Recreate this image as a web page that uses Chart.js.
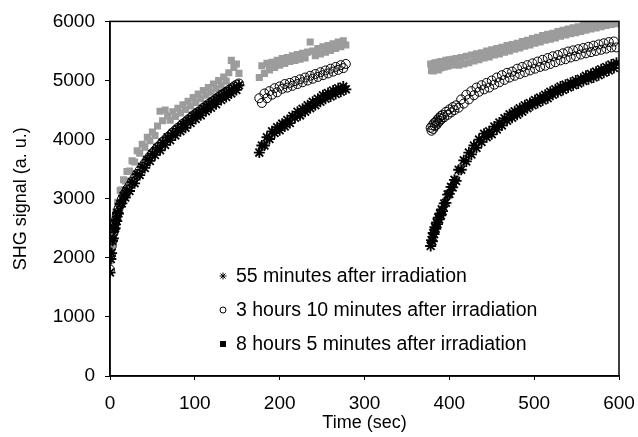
<!DOCTYPE html>
<html>
<head>
<meta charset="utf-8">
<script src="https://cdn.jsdelivr.net/npm/chart.js@4.4.1/dist/chart.umd.min.js"></script>
<style>
  html, body { margin: 0; padding: 0; background: #fff; }
  #wrap { width: 638px; height: 437px; }
</style>
</head>
<body>
<div id="wrap"><canvas id="shgChart" width="638" height="437"></canvas></div>
<script>
// Time points (sec) for the three measurement runs
const seg1Time = [0, 1, 2, 3, 4, 5, 6, 7, 8, 9, 10, 12, 14, 16, 18, 20, 23, 26, 29, 32, 35, 38, 41, 44, 47, 50, 53, 56, 59, 62, 65, 68, 71, 74, 77, 80, 83, 86, 89, 92, 95, 98, 101, 104, 107, 110, 113, 116, 119, 122, 125, 128, 131, 134, 137, 140, 143, 146, 149, 152];
const seg2Time = [176, 179, 182, 185, 188, 191, 194, 197, 200, 203, 206, 209, 212, 215, 218, 221, 224, 227, 230, 233, 236, 239, 242, 245, 248, 251, 254, 257, 260, 263, 266, 269, 272, 275, 278];
const seg3Time = [378, 379, 380, 381, 382, 383, 384, 385, 386, 387, 388, 389, 390, 391, 392, 394, 396, 398, 400, 402, 404, 406, 408, 411, 414, 417, 420, 423, 426, 429, 432, 435, 438, 441, 444, 447, 450, 453, 456, 459, 462, 465, 468, 471, 474, 477, 480, 483, 486, 489, 492, 495, 498, 501, 504, 507, 510, 513, 516, 519, 522, 525, 528, 531, 534, 537, 540, 543, 546, 549, 552, 555, 558, 561, 564, 567, 570, 573, 576, 579, 582, 585, 588, 591, 594, 597];

// 55 minutes after irradiation
const min55Seg1 = [1750, 1980, 2080, 2290, 2330, 2480, 2500, 2640, 2620, 2760, 2750, 2910, 2920, 3050, 3020, 3140, 3130, 3280, 3260, 3410, 3400, 3540, 3520, 3660, 3640, 3760, 3740, 3860, 3820, 3950, 3910, 4040, 3990, 4110, 4070, 4180, 4140, 4260, 4200, 4320, 4280, 4400, 4350, 4460, 4410, 4520, 4480, 4590, 4540, 4650, 4600, 4710, 4670, 4770, 4720, 4820, 4780, 4870, 4840, 4920];
const min55Seg2 = [3780, 3900, 3900, 4040, 4010, 4140, 4110, 4210, 4160, 4270, 4220, 4330, 4280, 4400, 4370, 4470, 4410, 4520, 4470, 4580, 4530, 4640, 4580, 4690, 4640, 4750, 4690, 4790, 4730, 4830, 4770, 4870, 4810, 4900, 4850];
const min55Seg3 = [2200, 2300, 2280, 2420, 2400, 2520, 2490, 2600, 2570, 2680, 2650, 2750, 2720, 2820, 2790, 2920, 2930, 3070, 3080, 3200, 3190, 3320, 3300, 3490, 3490, 3650, 3630, 3780, 3750, 3900, 3860, 4000, 3960, 4100, 4040, 4140, 4090, 4220, 4170, 4290, 4240, 4360, 4320, 4430, 4370, 4480, 4420, 4530, 4470, 4580, 4530, 4620, 4580, 4670, 4620, 4710, 4660, 4760, 4700, 4810, 4760, 4850, 4800, 4900, 4840, 4930, 4880, 4960, 4920, 5000, 4950, 5030, 4990, 5080, 5020, 5110, 5050, 5150, 5090, 5190, 5130, 5230, 5170, 5270, 5210, 5300];

// 3 hours 10 minutes after irradiation
const h3Seg1 = [1800, 2050, 2200, 2300, 2420, 2500, 2580, 2640, 2720, 2760, 2830, 2900, 2990, 3040, 3100, 3160, 3220, 3290, 3350, 3420, 3480, 3540, 3600, 3660, 3720, 3770, 3820, 3870, 3910, 3960, 4000, 4040, 4080, 4120, 4160, 4200, 4230, 4270, 4300, 4340, 4370, 4410, 4440, 4470, 4500, 4540, 4570, 4600, 4630, 4660, 4690, 4720, 4760, 4780, 4810, 4840, 4870, 4900, 4930, 4950];
const h3Seg2 = [4700, 4620, 4780, 4700, 4820, 4760, 4870, 4800, 4900, 4860, 4940, 4880, 4960, 4910, 4990, 4940, 5020, 4970, 5050, 5000, 5080, 5030, 5110, 5060, 5140, 5090, 5170, 5120, 5200, 5150, 5230, 5180, 5260, 5210, 5280];
const h3Seg3 = [4200, 4150, 4240, 4180, 4280, 4230, 4300, 4250, 4340, 4290, 4370, 4320, 4400, 4350, 4420, 4380, 4470, 4420, 4510, 4460, 4550, 4500, 4580, 4540, 4680, 4610, 4760, 4680, 4820, 4750, 4880, 4810, 4920, 4850, 4960, 4880, 5000, 4930, 5050, 4970, 5090, 5010, 5130, 5050, 5150, 5080, 5200, 5110, 5230, 5140, 5260, 5170, 5290, 5200, 5320, 5230, 5350, 5250, 5380, 5280, 5410, 5310, 5430, 5340, 5460, 5360, 5490, 5390, 5510, 5410, 5530, 5440, 5550, 5460, 5570, 5480, 5590, 5500, 5610, 5520, 5630, 5540, 5650, 5560, 5660, 5560];

// 8 hours 5 minutes after irradiation
const h8Seg1 = [1950, 2150, 2220, 2400, 2430, 2600, 2620, 2780, 2770, 2940, 2920, 3140, 3150, 3320, 3300, 3460, 3470, 3640, 3620, 3810, 3770, 3920, 3870, 4040, 3980, 4130, 4070, 4230, 4480, 4320, 4500, 4400, 4330, 4470, 4390, 4530, 4450, 4590, 4510, 4650, 4570, 4710, 4630, 4770, 4690, 4830, 4750, 4880, 4800, 4940, 4860, 5000, 4920, 5060, 4990, 5130, 5340, 5220, 5280, 5120];
const h8Seg2 = [5050, 5250, 5120, 5290, 5180, 5310, 5220, 5340, 5260, 5370, 5290, 5390, 5320, 5420, 5340, 5440, 5360, 5460, 5380, 5480, 5650, 5500, 5420, 5540, 5450, 5570, 5480, 5590, 5510, 5620, 5540, 5650, 5570, 5670, 5600];
const h8Seg3 = [5280, 5170, 5250, 5160, 5290, 5190, 5300, 5200, 5280, 5180, 5310, 5210, 5320, 5220, 5300, 5230, 5340, 5240, 5350, 5260, 5360, 5270, 5370, 5260, 5390, 5280, 5410, 5300, 5430, 5330, 5450, 5350, 5470, 5380, 5500, 5400, 5520, 5430, 5540, 5450, 5560, 5480, 5590, 5500, 5610, 5530, 5630, 5550, 5660, 5580, 5680, 5600, 5710, 5630, 5730, 5650, 5760, 5680, 5780, 5700, 5800, 5720, 5830, 5750, 5850, 5770, 5870, 5790, 5890, 5810, 5910, 5830, 5930, 5850, 5950, 5870, 5970, 5890, 5990, 5910, 6000, 5930, 6000, 5950, 6000, 5960];

const seriesLabels = [
  "55 minutes after irradiation",
  "3 hours 10 minutes after irradiation",
  "8 hours 5 minutes after irradiation",
];

const FONT = "'Liberation Sans', Arial, Helvetica, sans-serif";

// pair up time and signal arrays
function toPoints(times, values) {
  return times.map(function (t, i) {
    return { x: t, y: values[i] };
  });
}

function buildSeries(s1, s2, s3) {
  return toPoints(seg1Time, s1)
    .concat(toPoints(seg2Time, s2))
    .concat(toPoints(seg3Time, s3));
}

// box round the plot + legend inside the plot area
const boxAndLegend = {
  id: "boxAndLegend",
  afterDatasetsDraw(chart) {
    const { ctx, chartArea } = chart;
    ctx.save();
    ctx.strokeStyle = "#000";
    ctx.lineWidth = 1.5;
    ctx.strokeRect(chartArea.left, chartArea.top, chartArea.right - chartArea.left, chartArea.bottom - chartArea.top);

    const rows = [276, 310, 344];
    const mx = 223;
    chart.data.datasets.forEach(function (ds, i) {
      const y = rows[i];
      ctx.strokeStyle = "#000";
      ctx.fillStyle = "#000";
      ctx.lineWidth = 1;
      if (ds.pointStyle === "star") {
        Chart.helpers.drawPoint(ctx, { pointStyle: "star", radius: 3.5, borderWidth: 1, rotation: 0 }, mx, y);
      } else if (ds.pointStyle === "circle") {
        ctx.beginPath();
        ctx.arc(mx, y, 3, 0, Math.PI * 2);
        ctx.stroke();
      } else {
        ctx.fillRect(mx - 3, y - 3, 6, 6);
      }
      ctx.font = "19.5px " + FONT;
      ctx.textBaseline = "middle";
      ctx.fillText(ds.label, 236, y + 1);
    });
    ctx.restore();
  },
};

document.addEventListener("DOMContentLoaded", function () {
  const ctx = document.getElementById("shgChart").getContext("2d");

  const shgChart = new Chart(ctx, {
    type: "scatter",
    data: {
      datasets: [
        {
          label: seriesLabels[0],
          data: buildSeries(min55Seg1, min55Seg2, min55Seg3),
          pointStyle: "star",
          pointRadius: 5.5,
          pointBorderWidth: 1.8,
          pointBorderColor: "#000",
          pointBackgroundColor: "#000",
        },
        {
          label: seriesLabels[1],
          data: buildSeries(h3Seg1, h3Seg2, h3Seg3),
          pointStyle: "circle",
          pointRadius: 4.5,
          pointBorderWidth: 1,
          pointBorderColor: "#000",
          pointBackgroundColor: "transparent",
        },
        {
          label: seriesLabels[2],
          data: buildSeries(h8Seg1, h8Seg2, h8Seg3),
          pointStyle: "rect",
          pointRadius: 5,
          pointBorderWidth: 0,
          pointBorderColor: "#9c9c9c",
          pointBackgroundColor: "#9c9c9c",
        },
      ],
    },
    options: {
      responsive: false,
      animation: false,
      devicePixelRatio: 1,
      layout: {
        autoPadding: false,
        padding: { top: 21, right: 19, bottom: 0, left: 0 },
      },
      plugins: {
        legend: { display: false },
        tooltip: { enabled: false },
      },
      scales: {
        x: {
          type: "linear",
          min: 0,
          max: 600,
          afterFit: function (scale) {
            scale.height = 61;
            scale.paddingLeft = 0;
            scale.paddingRight = 0;
          },
          ticks: {
            stepSize: 100,
            color: "#000",
            padding: 12,
            font: { family: FONT, size: 19 },
            callback: function (value) {
              return String(value);
            },
          },
          grid: {
            display: true,
            drawOnChartArea: false,
            tickLength: 4,
            color: "#000",
          },
          border: { color: "#000", width: 1.5 },
          title: {
            display: true,
            text: "Time (sec)",
            color: "#000",
            font: { family: FONT, size: 18 },
            padding: { top: 0, bottom: 3 },
          },
        },
        y: {
          min: 0,
          max: 6000,
          afterFit: function (scale) {
            scale.width = 110;
          },
          ticks: {
            stepSize: 1000,
            color: "#000",
            padding: 10,
            font: { family: FONT, size: 19 },
            callback: function (value) {
              return String(value);
            },
          },
          grid: {
            display: true,
            drawOnChartArea: false,
            tickLength: 5,
            color: "#000",
          },
          border: { color: "#000", width: 1.5 },
          title: {
            display: true,
            text: "SHG signal (a. u.)",
            color: "#000",
            font: { family: FONT, size: 18 },
            padding: { top: 10, bottom: 0 },
          },
        },
      },
    },
    plugins: [boxAndLegend],
  });
});
</script>
</body>
</html>
